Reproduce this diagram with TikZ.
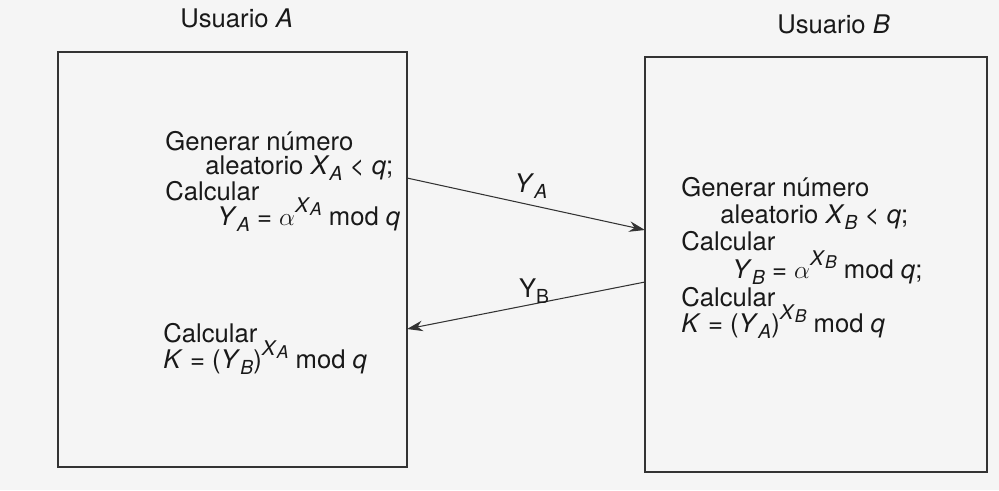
\documentclass[tikz,border=0pt]{standalone}
\usepackage{fontspec}
\setmainfont{TeX Gyre Heros}
\usetikzlibrary{arrows.meta}
% italic letter with lowered index
\newcommand{\vsub}[2]{\textit{#1}\raisebox{-0.45ex}{\fontsize{11}{11}\selectfont\textit{#2}}}
% raised exponent with its own index
\newcommand{\vexp}[2]{\raisebox{0.95ex}{\fontsize{11.5}{11.5}\selectfont\textit{#1}\raisebox{-0.35ex}{\fontsize{10}{10}\selectfont\textit{#2}}}}

\begin{document}
\begin{tikzpicture}[x=0.02cm, y=-0.02cm,
    txt/.style = {anchor=base west, inner sep=0pt, text=black!90,
                  font=\fontsize{14.6}{16}\selectfont},
    lbl/.style = {inner sep=0pt, text=black!90, font=\fontsize{14.6}{16}\selectfont},
    msg/.style = {draw=black!80, semithick, -{Stealth[length=9pt, width=6pt]}}]
    % page
    \path[fill=black!4] (0,0) rectangle (999,490);
    \useasboundingbox (0,0) rectangle (999,490);
    % boxes
    \coordinate (A1) at (58,52);
    \coordinate (A2) at (407,467);
    \coordinate (B1) at (645,57);
    \coordinate (B2) at (987,472);
    \path[draw=black!80, semithick] (A1) rectangle (A2);
    \path[draw=black!80, semithick] (B1) rectangle (B2);
    \node[txt] (userA) at (180,28) {Usuario \textit{A}};
    \node[txt] (userB) at (777,33) {Usuario \textit{B}};
    % user A
    \node[txt] (genA) at (165,150) {Generar número};
    \node[txt] (rndA) at (205,174) {aleatorio \vsub{X}{A} < \textit{q};};
    \node[txt] (calcA) at (165,200) {Calcular};
    \node[txt] (pubA) at (217,225) {\vsub{Y}{A} = $\alpha$\vexp{X}{A} mod \textit{q}};
    \node[txt] (calcKA) at (163,342) {Calcular};
    \node[txt] (keyA) at (163,368) {\textit{K} = (\vsub{Y}{B})\vexp{X}{A} mod \textit{q}};
    % user B
    \node[txt] (genB) at (681,196) {Generar número};
    \node[txt] (rndB) at (720,223) {aleatorio \vsub{X}{B} < \textit{q};};
    \node[txt] (calcB) at (681,250) {Calcular};
    \node[txt] (pubB) at (732,278) {\vsub{Y}{B} = $\alpha$\vexp{X}{B} mod \textit{q};};
    \node[txt] (calcKB) at (681,306) {Calcular};
    \node[txt] (keyB) at (681,332) {\textit{K} = (\vsub{Y}{A})\vexp{X}{B} mod \textit{q}};
    % messages
    \coordinate (yaOut) at (407,178);
    \coordinate (yaIn) at (645,230);
    \coordinate (ybOut) at (645,282);
    \coordinate (ybIn) at (407,329);
    \path[msg] (yaOut) -- (yaIn);
    \path[msg] (ybOut) -- (ybIn);
    \node[lbl] (ya) at (531,186) {\vsub{Y}{A}};
    \node[lbl] (yb) at (534,291) {Y\raisebox{-0.45ex}{\fontsize{11}{11}\selectfont B}};
\end{tikzpicture}
\end{document}
